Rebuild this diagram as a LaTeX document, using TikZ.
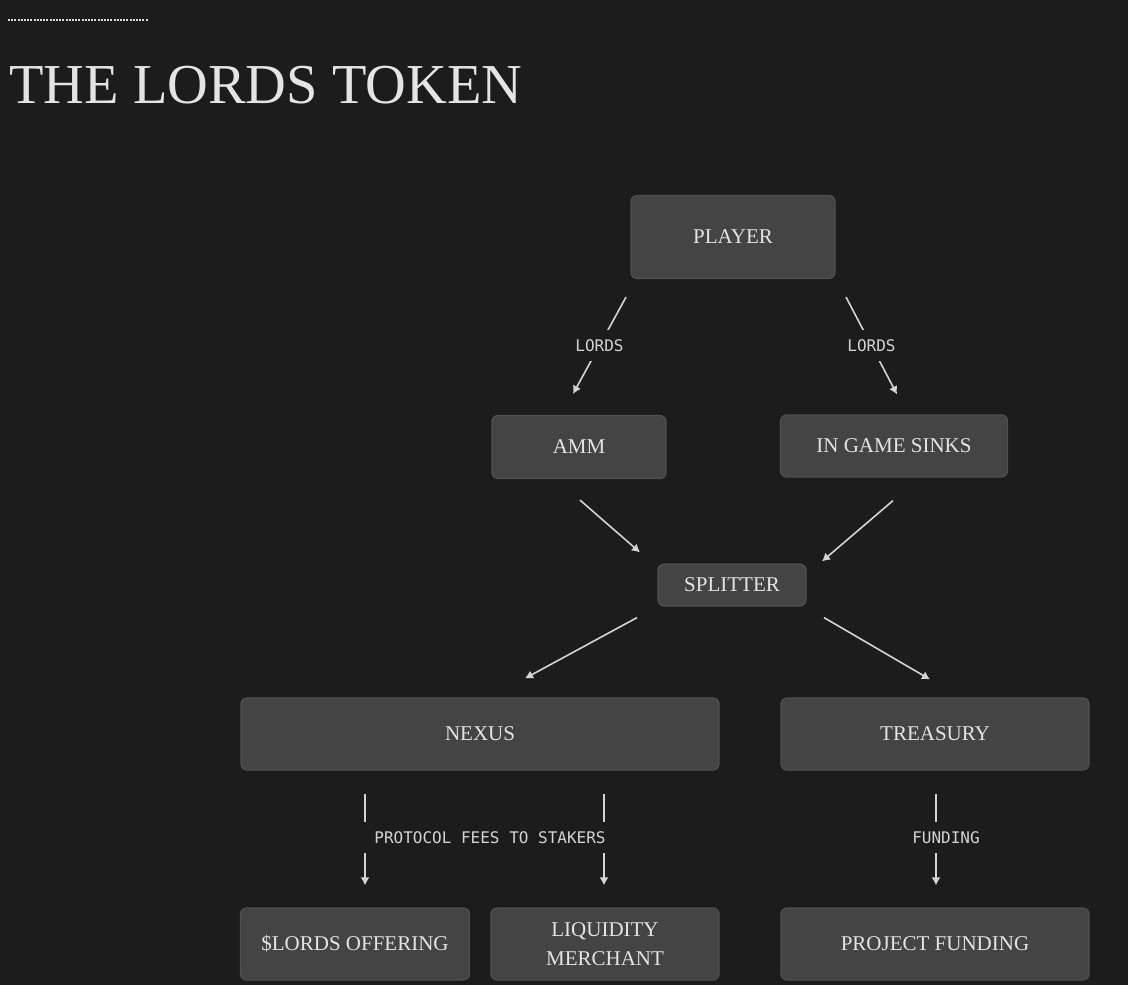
\documentclass[tikz,border=0pt]{standalone}
\usepackage{fontspec}
\setmainfont{Liberation Serif}
\newfontfamily\labelmono{DejaVu Sans Mono}
\usetikzlibrary{arrows.meta,positioning,calc}
\definecolor{BgDark}{RGB}{28,28,28}
\definecolor{BoxGray}{RGB}{68,68,68}
\definecolor{BoxEdge}{RGB}{80,80,80}
\definecolor{TextLight}{RGB}{228,228,228}
\definecolor{ArrowLight}{RGB}{212,212,212}
\tikzset{
  tokenbox/.style={draw=BoxEdge,line width=0.6pt,rounded corners=3pt,fill=BoxGray,
    text=TextLight,align=center,inner sep=0pt,
    font=\fontsize{10.5}{14.5}\selectfont},
  flowarrow/.style={-{Latex[length=4pt,width=4.5pt]},
    line width=0.8pt,draw=ArrowLight},
  flowlabel/.style={fill=BgDark,text=ArrowLight,inner sep=0pt,
    minimum height=15.5pt,font=\labelmono\fontsize{8}{9}\selectfont},
}

\begin{document}
\begin{tikzpicture}[x=0.5pt,y=-0.5pt]
  \fill[BgDark] (0,0) rectangle (1128,985);
  % title
  \draw[ArrowLight!80,line width=0.6pt,dash pattern=on 1pt off 0.6pt] (8,20) -- (148,20);
  \node[anchor=base west,inner sep=0pt,text=TextLight,
    font=\fontsize{28.2}{32}\selectfont] (title) at (9,103) {THE LORDS TOKEN};

  % boxes
  \node[tokenbox,minimum width=102pt,minimum height=41.5pt] (player) at (733,237) {PLAYER};
  \node[tokenbox,minimum width=87pt,minimum height=31.5pt] (amm) at (579,447) {AMM};
  \node[tokenbox,minimum width=113.5pt,minimum height=31pt] (sinks) at (894,446) {IN GAME SINKS};
  \node[tokenbox,minimum width=74pt,minimum height=21pt] (splitter) at (732,585) {SPLITTER};
  \node[tokenbox,minimum width=239pt,minimum height=36pt] (nexus) at (480,734) {NEXUS};
  \node[tokenbox,minimum width=154pt,minimum height=36pt] (treasury) at (935,734) {TREASURY};
  \node[tokenbox,minimum width=114.5pt,minimum height=36pt] (offering) at (355,944) {\$LORDS OFFERING};
  \node[tokenbox,minimum width=114pt,minimum height=36pt] (merchant) at (605,944) {LIQUIDITY\\MERCHANT};
  \node[tokenbox,minimum width=154pt,minimum height=36pt] (project) at (935,944) {PROJECT FUNDING};

  % flows
  \draw[flowarrow] ($(player.south)+(-107,18)$) -- node[flowlabel] {LORDS} ($(amm.north)+(-6,-21)$);
  \draw[flowarrow] ($(player.south)+(113,18)$) -- node[flowlabel] {LORDS} ($(sinks.north)+(3,-20)$);
  \draw[flowarrow] ($(amm.south)+(1,21)$) -- ($(splitter.north)+(-92,-11)$);
  \draw[flowarrow] ($(sinks.south)+(-1,23)$) -- ($(splitter.north)+(90,-2)$);
  \draw[flowarrow] ($(splitter.south)+(-95,11)$) -- ($(nexus.north)+(45,-19)$);
  \draw[flowarrow] ($(splitter.south)+(92,11)$) -- ($(treasury.north)+(-5,-18)$);
  \draw[flowarrow] ($(nexus.south)+(-115,23)$) -- ($(offering.north)+(10,-22)$);
  \draw[flowarrow] ($(nexus.south)+(124,23)$) -- ($(merchant.north)+(-1,-22)$);
  \draw[flowarrow] ($(treasury.south)+(1,23)$) -- ($(project.north)+(1,-22)$);
  \node[flowlabel,minimum width=130pt] (fees) at ($(nexus.south)+(10,67)$) {PROTOCOL FEES TO STAKERS};
  \node[flowlabel,minimum width=12pt] (funding) at ($(treasury.south)+(11,67)$) {FUNDING};
\end{tikzpicture}
\end{document}
